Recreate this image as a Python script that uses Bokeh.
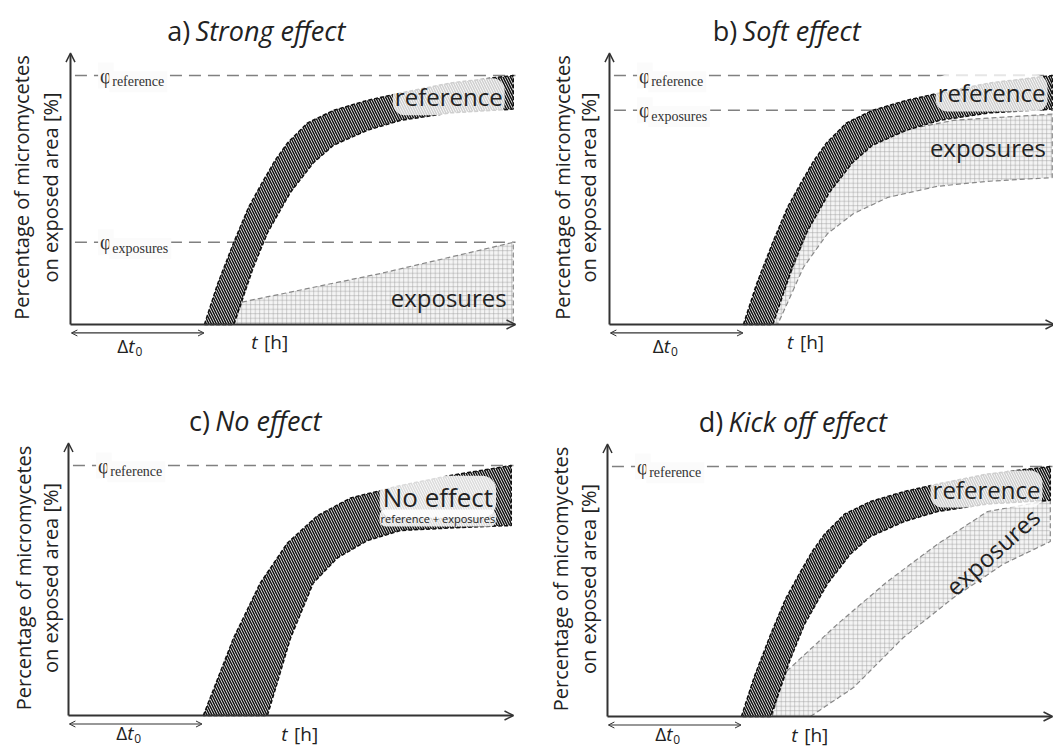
from bokeh.plotting import figure
from bokeh.layouts import gridplot
from bokeh.models import Range1d, Arrow, OpenHead
from bokeh.core.properties import value
from bokeh.embed import file_html
from bokeh.resources import INLINE

# ---------------- data ----------------
PANEL_LETTERS = ["a)", "b)", "c)", "d)"]
PANEL_TITLES = ["Strong effect", "Soft effect", "No effect", "Kick off effect"]
Y_LABEL_1 = "Percentage of micromycetes"
Y_LABEL_2 = "on exposed area [%]"

PHI_REF = 1.0
PHI_EXP_A = 0.33
PHI_EXP_B = 0.86

# reference band (panels a, b, d)
REF_UP_X = [3.01, 3.30, 3.67, 4.00, 4.34, 4.60, 4.88, 5.33, 5.91, 6.67, 7.42, 8.54, 9.95]
REF_UP_Y = [0.00, 0.16, 0.33, 0.47, 0.58, 0.66, 0.73, 0.81, 0.86, 0.90, 0.93, 0.97, 1.00]
REF_LO_X = [3.67, 3.90, 4.11, 4.43, 4.94, 5.46, 5.91, 6.67, 7.42, 8.54, 9.95]
REF_LO_Y = [0.00, 0.12, 0.23, 0.37, 0.53, 0.65, 0.72, 0.78, 0.82, 0.85, 0.865]

# panel a exposures
EXPA_UP_X = [3.67, 3.85, 6.97, 9.95]
EXPA_UP_Y = [0.00, 0.09, 0.205, 0.33]
EXPA_LO_X = [3.67, 9.95]
EXPA_LO_Y = [0.00, 0.00]

# panel b exposures
EXPB_UP_X = [3.62, 4.36, 4.81, 5.19, 5.87, 6.61, 7.73, 9.95]
EXPB_UP_Y = [0.00, 0.335, 0.52, 0.64, 0.73, 0.78, 0.82, 0.845]
EXPB_LO_X = [3.78, 4.36, 4.90, 5.48, 6.25, 7.37, 8.49, 9.95]
EXPB_LO_Y = [0.00, 0.23, 0.365, 0.445, 0.51, 0.555, 0.575, 0.59]

# panel c merged band
NOE_UP_X = [3.03, 3.71, 4.31, 4.92, 5.60, 6.34, 7.46, 8.58, 9.95]
NOE_UP_Y = [0.00, 0.31, 0.53, 0.69, 0.80, 0.87, 0.92, 0.96, 1.00]
NOE_LO_X = [4.47, 4.99, 5.50, 6.04, 6.72, 7.46, 8.58, 9.95]
NOE_LO_Y = [0.00, 0.31, 0.53, 0.63, 0.70, 0.74, 0.75, 0.76]

# panel d exposures
EXPD_UP_X = [3.70, 3.96, 5.17, 6.29, 7.42, 8.54, 9.95]
EXPD_UP_Y = [0.00, 0.17, 0.37, 0.54, 0.69, 0.82, 0.865]
EXPD_LO_X = [4.56, 5.53, 6.65, 7.78, 8.90, 9.95]
EXPD_LO_Y = [0.00, 0.116, 0.316, 0.476, 0.61, 0.70]

DT0 = 3.0
X_END = 10.0
Y_TOP = 1.09

SANS = value("Open Sans")
SERIF = value("Liberation Serif")
TXT = "#222222"


def band_xy(ux, uy, lx, ly):
    return list(ux) + list(lx)[::-1], list(uy) + list(ly)[::-1]


def make_panel(w, h, xr, yr):
    p = figure(width=w, height=h, x_range=Range1d(*xr), y_range=Range1d(*yr),
               output_backend="svg", toolbar_location=None, min_border=0)
    p.axis.visible = False
    p.grid.visible = False
    p.outline_line_color = None
    p.background_fill_color = "white"
    p.border_fill_color = "white"
    return p


def phi_line(p, yv, sub):
    p.line([0.1, X_END], [yv, yv], line_color="#808080", line_width=1.5, line_dash="12 7")
    p.text([0.62], [yv], text=["\u03c6"], text_font=SERIF, text_font_size="20px",
           text_baseline="middle", text_align="left", text_color="#333333",
           background_fill_color="#fbfbfb", background_fill_alpha=1.0, padding=2)
    p.text([0.87], [yv - 0.025], text=[sub], text_font=SERIF, text_font_size="14px",
           text_baseline="middle", text_align="left", text_color="#333333",
           background_fill_color="#fbfbfb", background_fill_alpha=1.0, padding=3)


def common(p, idx, split, ylab_off, th_x, dt_x, low):
    # axes as arrows
    p.add_layout(Arrow(end=OpenHead(size=9, line_width=1.5, line_color="#333333"),
                       x_start=0, y_start=0, x_end=X_END, y_end=0,
                       line_width=2, line_color="#333333"))
    p.add_layout(Arrow(end=OpenHead(size=9, line_width=1.5, line_color="#333333"),
                       x_start=0, y_start=0, x_end=0, y_end=Y_TOP,
                       line_width=2, line_color="#333333"))
    # delta t0 double arrow
    p.add_layout(Arrow(start=OpenHead(size=6, line_width=1, line_color="#333333"),
                       end=OpenHead(size=6, line_width=1, line_color="#333333"),
                       x_start=0.02, y_start=-0.034, x_end=DT0, y_end=-0.034,
                       line_width=1.2, line_color="#333333"))
    p.text([dt_x], [low], text=["\u0394"], text_font=SANS, text_font_size="19px",
           text_align="right", text_baseline="middle", text_color=TXT)
    p.text([dt_x], [low], text=["t"], text_font=SANS, text_font_size="19px",
           text_font_style="italic", text_align="left", text_baseline="middle", text_color=TXT)
    p.text([dt_x + 0.16], [low - 0.022], text=["0"], text_font=SANS, text_font_size="12px",
           text_align="left", text_baseline="middle", text_color=TXT)
    # t [h]
    p.text([th_x], [-0.072], text=["t"], text_font=SANS, text_font_size="19px",
           text_font_style="italic", text_align="right", text_baseline="middle", text_color=TXT)
    p.text([th_x + 0.15], [-0.072], text=["[h]"], text_font=SANS, text_font_size="19px",
           text_align="left", text_baseline="middle", text_color=TXT)
    # title
    p.text([split - 0.12], [1.18], text=[PANEL_LETTERS[idx]], text_font=SANS,
           text_font_size="27px", text_align="right", text_baseline="middle", text_color=TXT)
    p.text([split], [1.18], text=[PANEL_TITLES[idx]], text_font=SANS, text_font_size="27px",
           text_font_style="italic", text_align="left", text_baseline="middle", text_color=TXT)
    # y label
    p.text([ylab_off[0]], [0.55], text=[Y_LABEL_1], text_font=SANS, text_font_size="20px",
           angle=1.5708, text_align="center", text_baseline="middle", text_color=TXT)
    p.text([ylab_off[1]], [0.55], text=[Y_LABEL_2], text_font=SANS, text_font_size="20px",
           angle=1.5708, text_align="center", text_baseline="middle", text_color=TXT)


REF_STYLE = dict(fill_color="#f0f0f0", hatch_pattern="left_diagonal_line", hatch_color="#111111",
                 hatch_scale=5, hatch_weight=1.5, line_color="#111111", line_width=1.5,
                 line_dash="4 2")
EXP_STYLE = dict(fill_color="#f4f4f4", hatch_pattern="cross", hatch_color="#a0a0a0",
                 hatch_scale=4.5, hatch_weight=0.5, line_color="#888888", line_width=1.2,
                 line_dash="5 3")
HALO = dict(background_fill_color="white", background_fill_alpha=0.8, border_radius=12, padding=2)

# ---------------- panel a ----------------
pa = make_panel(526, 370, (-1.573, 10.247), (-0.1847, 1.3012))
phi_line(pa, PHI_REF, "reference")
phi_line(pa, PHI_EXP_A, "exposures")
x, y = band_xy(EXPA_UP_X, EXPA_UP_Y, EXPA_LO_X, EXPA_LO_Y)
pa.patch(x, y, **EXP_STYLE)
x, y = band_xy(REF_UP_X, REF_UP_Y, REF_LO_X, REF_LO_Y)
pa.patch(x, y, **REF_STYLE)
pa.text([8.5], [0.915], text=["reference"], text_font=SANS, text_font_size="24px",
        text_align="center", text_baseline="middle", text_color=TXT, **HALO)
pa.text([8.5], [0.11], text=["exposures"], text_font=SANS, text_font_size="24px",
        text_align="center", text_baseline="middle", text_color=TXT)
common(pa, 0, 2.81, (-1.1, -0.45), 4.2, 1.3, -0.088)

# ---------------- panel b ----------------
pb = make_panel(527, 370, (-1.865, 9.978), (-0.1847, 1.3012))
phi_line(pb, PHI_REF, "reference")
phi_line(pb, PHI_EXP_B, "exposures")
x, y = band_xy(EXPB_UP_X, EXPB_UP_Y, EXPB_LO_X, EXPB_LO_Y)
pb.patch(x, y, **EXP_STYLE)
x, y = band_xy(REF_UP_X, REF_UP_Y, REF_LO_X, REF_LO_Y)
pb.patch(x, y, **REF_STYLE)
pb.text([7.33], [0.93], text=["reference"], text_font=SANS, text_font_size="24px",
        text_align="left", text_baseline="middle", text_color=TXT, **HALO)
pb.text([7.2], [0.71], text=["exposures"], text_font=SANS, text_font_size="24px",
        text_align="left", text_baseline="middle", text_color=TXT)
common(pb, 1, 2.99, (-1.06, -0.47), 4.13, 1.22, -0.088)

# ---------------- panel c ----------------
pc = make_panel(526, 377, (-1.528, 10.292), (-0.128, 1.38))
phi_line(pc, PHI_REF, "reference")
x, y = band_xy(NOE_UP_X, NOE_UP_Y, NOE_LO_X, NOE_LO_Y)
pc.patch(x, y, **REF_STYLE)
pc.text([8.3], [0.875], text=["No effect"], text_font=SANS, text_font_size="26px",
        text_align="center", text_baseline="middle", text_color=TXT,
        background_fill_color="white", background_fill_alpha=0.85, border_radius=14, padding=3)
pc.text([8.3], [0.79], text=["reference + exposures"], text_font=SANS, text_font_size="11px",
        text_align="center", text_baseline="middle", text_color=TXT,
        background_fill_color="white", background_fill_alpha=0.85, border_radius=6, padding=1)
common(pc, 2, 3.30, (-1.02, -0.41), 4.92, 1.32, -0.068)

# ---------------- panel d ----------------
pd = make_panel(527, 377, (-1.820, 10.022), (-0.124, 1.384))
phi_line(pd, PHI_REF, "reference")
x, y = band_xy(EXPD_UP_X, EXPD_UP_Y, EXPD_LO_X, EXPD_LO_Y)
pd.patch(x, y, **EXP_STYLE)
x, y = band_xy(REF_UP_X, REF_UP_Y, REF_LO_X, REF_LO_Y)
pd.patch(x, y, **REF_STYLE)
pd.text([7.26], [0.91], text=["reference"], text_font=SANS, text_font_size="24px",
        text_align="left", text_baseline="middle", text_color=TXT, **HALO)
pd.text([8.65], [0.66], text=["exposures"], text_font=SANS, text_font_size="24px",
        angle=0.73, text_align="center", text_baseline="middle", text_color=TXT)
common(pd, 3, 2.72, (-1.05, -0.43), 4.27, 1.32, -0.068)

grid = gridplot([[pa, pb], [pc, pd]], toolbar_location=None)
open("out.html", "w").write(file_html(grid, INLINE))
